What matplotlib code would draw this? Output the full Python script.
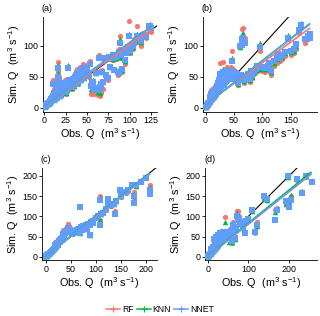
import numpy as np
import matplotlib
matplotlib.use("Agg")
import matplotlib.pyplot as plt
from matplotlib.lines import Line2D

plt.rcParams['font.family'] = ['Liberation Sans', 'DejaVu Sans']
plt.rcParams['mathtext.fontset'] = 'custom'
plt.rcParams['mathtext.rm'] = 'Liberation Sans'
plt.rcParams['mathtext.it'] = 'Liberation Sans:italic'

models = ['RF', 'KNN', 'NNET']
colors = ['#F8766D', '#00BA38', '#619CFF']
markers = ['o', '^', 's']

# ---------------- Panel (a) ----------------
obs_a = [0.5,1,1.5,2,2.5,3,3.5,4,4.5,5,5.5,6,6.5,7,7.5,8,8.5,9,9.5,10,
         10.5,11,12,12.5,13,14,14.5,15,16,16.5,17,18,18.5,19,20,20.5,21,22,23,24,
         25,25.5,26,27,28,28.5,29,30,31,32,33,34,35,36,37,38,39,40,40.5,41,
         42,43,44,45,46,47,48,50,52,54,55,56,57,58,60,61,62,63,64,65,
         66,67,68,69,70,72,74,75,77,80,82,84,86,88,89,90,93,95,98,99,
         102,105,108,110,113,116,119,122,124,125,
         76,78,81,83,85,87,91,96,100,104]
rf_a = [2,3,2,5,4,6,5,9,7,10,8,12,9,14,11,17,12,20,14,25,
        45,13,30,15,20,40,18,22,73,58,50,28,20,35,18,30,40,30,25,45,
        33,22,38,28,66,40,42,35,48,30,40,50,36,55,42,62,45,38,60,48,
        65,44,52,70,48,60,55,68,50,75,22,25,40,22,55,24,30,20,85,18,
        38,23,60,30,75,50,82,45,66,85,60,78,52,94,116,80,90,70,100,139,
        95,110,131,105,100,120,112,128,125,122,
        78,83,76,86,80,60,58,92,88,95]
knn_a = [1,2,2,4,3,5,5,7,6,8,7,10,8,12,10,14,11,16,13,21,
         40,12,26,14,18,36,17,21,68,55,46,26,19,32,22,28,37,29,26,41,
         31,24,36,29,68,42,39,33,46,32,38,47,35,52,41,58,43,40,58,47,
         62,44,50,65,47,57,52,64,52,72,30,40,45,32,55,30,35,25,82,24,
         40,36,58,42,78,50,80,50,65,82,62,80,55,90,110,82,92,75,97,119,
         98,105,119,108,105,118,115,133,135,130,
         80,81,78,84,82,58,60,90,90,98]
nnet_a = [1,2,3,3,4,4,6,5,7,7,8,8,10,9,12,11,13,12,15,18,
          38,12,24,13,17,34,16,20,63,50,43,25,19,30,24,27,35,28,27,39,
          30,25,35,30,63,44,38,33,45,33,37,46,36,50,40,56,42,41,56,46,
          60,45,49,63,48,55,52,62,53,70,35,40,42,30,56,28,32,28,80,30,
          36,38,58,42,80,52,78,47,66,84,60,82,57,89,104,84,93,76,98,115,
          99,104,116,110,107,117,116,131,132,128,
          82,80,80,85,83,56,62,88,92,100]
fit_slope_a = [0.98, 1.02, 1.01]
fit_icpt_a = [3.0, 3.0, 3.5]

# ---------------- Panel (b) ----------------
obs_b = [0.5,1,1.5,2,3,4,5,6,7,8,9,10,11,12,13,14,15,16,17,18,19,20,
         21,22,23,24,25,26,27,28,29,30,31,32,33,34,35,36,37,38,39,40,
         41,42,43,44,45,46,47,48,50,52,54,55,
         57,60,62,64,65,66,66,68,70,72,75,78,80,82,85,88,90,93,96,100,
         105,110,112,116,120,125,128,131,135,140,145,150,155,160,165,169,175,180,184,184]
rf_b = [2,3,3,5,6,8,10,12,25,14,28,16,30,18,20,32,22,35,24,38,26,40,
        28,45,30,50,72,35,55,38,60,74,40,58,42,62,45,55,48,65,50,52,
        55,60,50,65,58,91,52,62,60,48,55,58,
        37,100,48,101,127,45,128,40,112,45,50,42,55,48,55,58,62,60,92,60,
        58,62,66,53,68,72,80,75,78,84,110,85,88,95,120,128,105,110,120,118]
knn_b = [1,2,3,4,5,6,8,9,20,11,24,13,26,15,17,28,19,31,21,34,23,36,
         27,42,29,47,60,33,52,36,57,62,38,55,40,58,43,53,46,62,48,50,
         52,58,48,62,55,80,50,60,58,47,53,56,
         38,98,50,103,118,47,120,43,108,48,52,45,58,50,58,61,65,63,104,63,
         62,66,70,58,72,78,84,80,82,88,117,90,92,100,128,136,112,118,117,120]
nnet_b = [1,2,2,3,4,5,7,8,18,10,22,12,24,14,16,26,18,29,20,32,22,34,
          26,40,28,45,55,32,50,35,55,58,37,53,39,56,42,52,45,60,47,49,
          51,56,47,60,54,75,49,58,57,46,52,55,
          40,100,52,101,110,48,112,45,105,50,54,47,60,52,60,63,67,66,98,66,
          64,68,72,60,75,80,86,80,85,90,112,92,95,102,125,133,110,115,113,118]
fit_slope_b = [0.665, 0.71, 0.705]
fit_icpt_b = [6.0, 5.0, 5.0]

# ---------------- Panel (c) ----------------
obs_c = [0.5,1,2,3,4,5,6,7,8,9,10,11,12,13,14,15,16,17,18,19,
         20,21,22,23,24,25,26,27,28,29,30,31,32,33,34,35,36,37,38,39,
         40,41,42,43,44,45,46,47,48,50,
         52,55,58,60,62,65,68,69,70,72,75,78,80,82,85,88,89,90,95,100,
         105,108,109,110,115,120,125,125,130,137,138,140,148,150,160,165,172,175,176,180,
         190,200,207,208]
rf_c = [2,3,4,5,6,8,8,10,11,12,13,15,16,18,19,21,22,24,37,26,
        28,30,32,40,34,36,45,40,42,48,45,47,52,50,60,65,58,62,66,64,
        70,68,72,70,80,81,75,70,72,68,
        60,62,64,66,68,70,60,126,75,70,78,72,80,70,82,82,55,90,86,96,
        100,151,90,105,108,115,132,140,125,131,112,138,162,148,158,162,180,140,160,175,
        185,195,178,170]
knn_c = [2,2,3,4,5,7,7,9,10,11,12,14,15,16,18,19,20,22,34,24,
         26,28,30,37,32,34,42,38,40,45,43,45,50,48,56,60,56,58,62,60,
         65,64,68,66,72,74,70,67,68,65,
         58,60,62,64,66,68,58,126,72,68,75,70,78,69,80,80,55,88,95,98,
         102,145,92,106,110,117,133,128,127,131,110,137,165,150,160,165,180,138,155,176,
         186,196,170,172]
nnet_c = [1,2,3,4,5,6,7,8,9,10,11,12,14,15,16,18,19,20,30,22,
          24,26,28,34,30,32,40,36,38,42,41,43,47,46,52,56,54,56,60,58,
          62,62,64,64,68,70,67,65,66,63,
          57,60,63,64,67,69,59,122,73,66,76,68,79,69,81,79,53,87,84,97,
          101,141,79,105,109,118,143,130,128,130,106,139,165,149,160,164,178,132,150,177,
          184,195,155,165]
fit_slope_c = [0.98, 0.99, 0.985]
fit_icpt_c = [1.5, 1.5, 1.0]

# ---------------- Panel (d) ----------------
obs_d = [0.5,1,2,3,4,5,6,7,8,9,10,11,12,13,14,15,16,17,18,19,
         20,21,22,23,24,25,26,27,28,29,30,32,34,36,38,40,42,44,46,48,
         50,52,55,58,60,
         59,62,65,67,70,71,74,76,79,82,86,92,95,100,108,116,120,137,145,165,
         170,192,197,200,205,219,231,241,255]
rf_d = [2,3,4,5,6,7,8,10,12,25,14,15,28,17,18,20,40,22,24,30,
        26,45,28,30,32,50,34,36,38,55,40,42,45,48,58,52,98,55,58,62,
        60,64,66,70,72,
        33,86,70,45,75,114,112,100,86,80,70,61,85,90,112,60,85,143,140,115,
        120,131,200,130,150,190,160,198,188]
knn_d = [2,2,3,4,5,6,7,9,10,22,12,14,25,15,16,18,42,20,22,28,
         24,48,26,28,30,52,32,34,36,56,38,40,43,46,60,50,86,53,56,60,
         58,37,62,66,68,
         37,80,68,45,72,108,100,95,86,82,72,62,86,92,113,65,77,143,140,110,
         118,131,198,133,152,192,163,200,186]
nnet_d = [1,2,3,4,5,6,7,8,10,20,12,13,24,15,16,17,45,19,21,30,
          23,50,25,27,29,55,31,33,35,58,37,39,42,44,61,48,62,52,55,58,
          56,50,60,63,65,
          40,78,66,47,70,100,95,92,85,83,74,60,88,94,116,61,78,149,142,90,
          115,138,200,123,140,192,158,200,184]
fit_slope_d = [0.80, 0.815, 0.80]
fit_icpt_d = [1.0, 2.0, 1.5]

panel_labels = ['(a)', '(b)', '(c)', '(d)']
xticks = [[0, 25, 50, 75, 100, 125], [0, 50, 100, 150],
          [0, 50, 100, 150, 200], [0, 100, 200]]
yticks = [[0, 50, 100], [0, 50, 100],
          [0, 50, 100, 150, 200], [0, 50, 100, 150, 200]]
xlims = [(-1.5, 132), (-4.8, 196), (-7.4, 222), (-6.6, 268)]
ylims = [(-7, 146), (-6.5, 146), (-8, 219), (-8, 219)]
positions = [[0.134, 0.646, 0.357, 0.300], [0.634, 0.646, 0.356, 0.300],
             [0.131, 0.177, 0.360, 0.291], [0.641, 0.177, 0.349, 0.291]]

panels = [
    (obs_a, [rf_a, knn_a, nnet_a], fit_slope_a, fit_icpt_a),
    (obs_b, [rf_b, knn_b, nnet_b], fit_slope_b, fit_icpt_b),
    (obs_c, [rf_c, knn_c, nnet_c], fit_slope_c, fit_icpt_c),
    (obs_d, [rf_d, knn_d, nnet_d], fit_slope_d, fit_icpt_d),
]

fig = plt.figure(figsize=(3.2, 3.16), dpi=100)
xlabel = r'Obs. Q  (m$^{3}$ s$^{-1}$)'
ylabel = r'Sim. Q  (m$^{3}$ s$^{-1}$)'

for i, (obs, sims, slopes, icpts) in enumerate(panels):
    ax = fig.add_axes(positions[i])
    obs = np.asarray(obs, dtype=float)
    # 1:1 line
    lim = max(xlims[i][1], ylims[i][1]) + 10
    ax.plot([-20, lim], [-20, lim], color='black', lw=0.8, zorder=1)
    for k in range(3):
        s = np.asarray(sims[k], dtype=float)
        ax.scatter(obs, s, s=14 if k != 1 else 16, marker=markers[k],
                   color=colors[k], linewidths=0, zorder=2 + k)
    xs = np.array([obs.min(), obs.max()])
    for k in range(3):
        ax.plot(xs, slopes[k] * xs + icpts[k], color=colors[k], lw=1.2,
                zorder=6 + k, solid_capstyle='butt')
    ax.set_xlim(*xlims[i])
    ax.set_ylim(*ylims[i])
    ax.set_xticks(xticks[i])
    ax.set_yticks(yticks[i])
    for sp in ['top', 'right']:
        ax.spines[sp].set_visible(False)
    for sp in ['left', 'bottom']:
        ax.spines[sp].set_linewidth(0.6)
    ax.tick_params(labelsize=6.4, length=2, width=0.6, pad=1.2, colors='black')
    ax.set_xlabel(xlabel, fontsize=7.8, labelpad=1)
    ax.set_ylabel(ylabel, fontsize=7.8, labelpad=1)
    ax.text(-0.01, 1.045, panel_labels[i], transform=ax.transAxes,
            fontsize=6.5, ha='left', va='bottom')

handles = [Line2D([0], [0], color=colors[k], lw=1.1, marker='+',
                  markersize=4, markeredgewidth=0.8) for k in range(3)]
fig.legend(handles, models, loc='center', bbox_to_anchor=(0.5, 0.022),
           ncol=3, frameon=False, fontsize=6.2, handlelength=1.6,
           handletextpad=0.2, columnspacing=0.4, borderaxespad=0)

fig.savefig('out.png', dpi=100)
